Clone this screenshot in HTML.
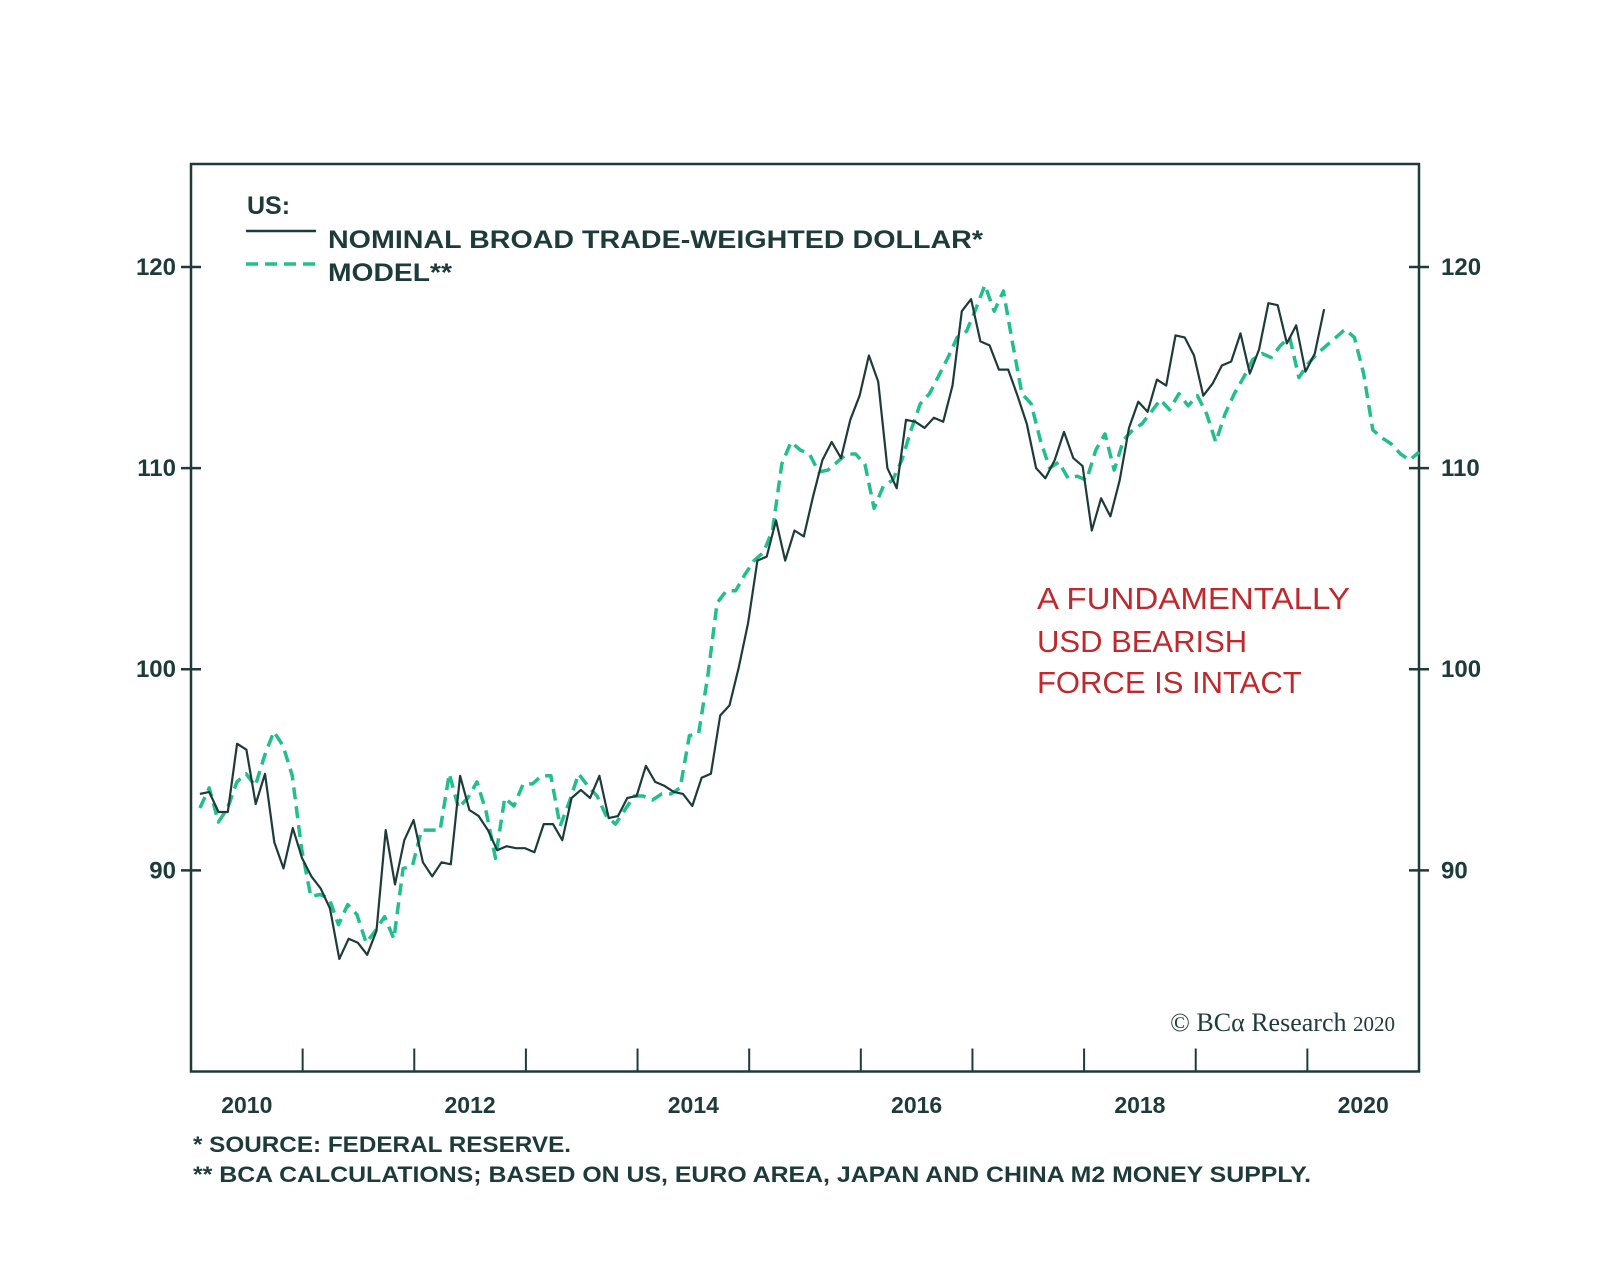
<!DOCTYPE html>
<html><head><meta charset="utf-8"><style>
html,body{margin:0;padding:0;background:#fff;}
svg{display:block;}
text{font-family:"Liberation Sans",sans-serif;}
</style></head><body>
<svg id="chart" width="1600" height="1282" viewBox="0 0 1600 1282">
<rect x="191" y="164" width="1228" height="907.5" fill="none" stroke="#1d3b3a" stroke-width="2.5"/>
<g id="axes"></g>
<g id="series"></g>
<g>
<text x="247" y="214" font-size="25" font-weight="bold" fill="#1d3b3a">US:</text>
<line x1="246" y1="231" x2="316" y2="231" stroke="#1d3b3a" stroke-width="2.5"/>
<text x="328" y="248" font-size="25" font-weight="bold" fill="#1d3b3a" textLength="655" lengthAdjust="spacingAndGlyphs">NOMINAL BROAD TRADE-WEIGHTED DOLLAR*</text>
<line x1="246" y1="264" x2="316" y2="264" stroke="#22bf8e" stroke-width="3.5" stroke-dasharray="12,7"/>
<text x="328" y="281" font-size="25" font-weight="bold" fill="#1d3b3a" textLength="124" lengthAdjust="spacingAndGlyphs">MODEL**</text>
</g>
<g fill="#c0282d" font-size="31">
<text x="1037" y="609" textLength="313" lengthAdjust="spacingAndGlyphs">A FUNDAMENTALLY</text>
<text x="1037" y="652">USD BEARISH</text>
<text x="1037" y="693">FORCE IS INTACT</text>
</g>
<text x="1395" y="1031" text-anchor="end" font-size="26" fill="#1d3b3a" style="font-family:'Liberation Serif',serif">© BCα Research <tspan font-size="21">2020</tspan></text>
<g fill="#1d3b3a" font-size="22" font-weight="bold">
<text x="193" y="1152" textLength="378" lengthAdjust="spacingAndGlyphs">*  SOURCE: FEDERAL RESERVE.</text>
<text x="193" y="1182" textLength="1118" lengthAdjust="spacingAndGlyphs">** BCA CALCULATIONS; BASED ON US, EURO AREA, JAPAN AND CHINA M2 MONEY SUPPLY.</text>
</g>
</svg>
<script>
const yTicks=[90,100,110,120];
const xTickYears=[2011,2012,2013,2014,2015,2016,2017,2018,2019,2020];
const xLabels=["2010","2012","2014","2016","2018","2020"];
const dollarStart=2010.08, dollarEnd=2020.15;
const dollar=[93.8,93.9,92.9,92.9,96.3,96.0,93.3,94.8,91.4,90.1,92.1,90.6,89.7,89.1,88.1,85.6,86.6,86.4,85.8,87.0,92.0,89.3,91.5,92.5,90.4,89.7,90.4,90.3,94.7,93.0,92.7,92.0,91.0,91.2,91.1,91.1,90.9,92.3,92.3,91.5,93.6,94.0,93.6,94.7,92.6,92.7,93.6,93.7,95.2,94.4,94.2,93.9,93.8,93.2,94.6,94.8,97.7,98.2,100.1,102.3,105.4,105.6,107.4,105.4,106.9,106.6,108.6,110.4,111.3,110.5,112.4,113.6,115.6,114.3,110.0,109.0,112.4,112.3,112.0,112.5,112.3,114.1,117.8,118.4,116.3,116.1,114.9,114.9,113.6,112.2,110.0,109.5,110.4,111.8,110.5,110.1,106.9,108.5,107.6,109.4,112.0,113.3,112.8,114.4,114.1,116.6,116.5,115.6,113.6,114.2,115.1,115.3,116.7,114.7,115.9,118.2,118.1,116.2,117.1,114.8,115.7,117.9];
const modelStart=2010.08, modelEnd=2021.0;
const model=[93.1,94.1,92.4,93.1,94.4,94.8,94.2,95.7,96.9,96.2,94.7,91.1,88.7,88.8,88.6,87.3,88.3,87.8,86.4,87.0,87.7,86.6,90.1,90.2,92.0,92.0,92.0,94.8,93.1,93.6,94.4,92.9,90.6,93.6,93.2,94.3,94.3,94.7,94.7,92.2,93.4,94.8,94.2,93.7,92.7,92.3,93.0,93.7,93.7,93.5,93.8,93.8,94.1,96.7,96.8,99.7,103.3,103.9,103.9,104.7,105.4,105.8,106.9,110.2,111.3,110.9,110.7,109.8,109.9,110.3,110.7,110.7,110.2,108.0,109.1,109.4,110.4,111.9,113.2,113.7,114.6,115.5,116.5,116.8,117.9,119.1,117.8,118.8,116.2,113.7,113.2,111.4,110.0,110.3,109.5,109.6,109.4,110.9,111.7,109.9,111.4,111.9,112.2,112.8,113.4,112.9,113.7,113.1,113.6,112.7,111.3,112.7,113.7,114.5,115.4,115.7,115.5,116.1,116.5,114.5,115.2,115.7,116.1,116.5,116.9,116.5,114.7,111.9,111.5,111.2,110.7,110.4,110.8];

const NS="http://www.w3.org/2000/svg";
const X0=191,X1=1419,Y0=164,Y1=1071.5,D0=2010,D1=2021,V0=80,V1=125.12;
function xs(d){return X0+(d-D0)/(D1-D0)*(X1-X0);}
function ys(v){return Y1-(v-V0)/(V1-V0)*(Y1-Y0);}
function mk(tag,attrs,parent){const e=document.createElementNS(NS,tag);for(const k in attrs)e.setAttribute(k,attrs[k]);parent.appendChild(e);return e;}
const axes=document.getElementById('axes'), series=document.getElementById('series');
yTicks.forEach(v=>{
  const y=ys(v);
  let t=mk('line',{x1:181,y1:y,x2:201,y2:y,stroke:'#1d3b3a','stroke-width':2.5},axes);
  
  
  t=mk('line',{x1:X1-10,y1:y,x2:X1+10,y2:y,stroke:'#1d3b3a','stroke-width':2.5},axes);
  
  
  let l=mk('text',{x:176,y:y+8,'text-anchor':'end','font-size':24,'font-weight':'bold',fill:'#1d3b3a'},axes);
  l.textContent=v;
  
  
  l=mk('text',{x:X1+22,y:y+8,'font-size':24,'font-weight':'bold',fill:'#1d3b3a'},axes);
  l.textContent=v;
  
  
});
xTickYears.forEach(d=>{
  const x=xs(d);
  const t=mk('line',{x1:x,y1:Y1,x2:x,y2:Y1-23,stroke:'#1d3b3a','stroke-width':2},axes);
  
  
});
xLabels.forEach(s=>{
  const l=mk('text',{x:xs(+s+0.5),y:1113,'text-anchor':'middle','font-size':23,'font-weight':'bold',fill:'#1d3b3a'},axes);
  l.textContent=s;
  
  
});
function pts(vals,s,e){return vals.map((v,i)=>xs(s+(e-s)*i/(vals.length-1)).toFixed(1)+','+ys(v).toFixed(1)).join(' ');}
const m=mk('polyline',{points:pts(model,modelStart,modelEnd),fill:'none',stroke:'#22bf8e','stroke-width':3.5,'stroke-dasharray':'12,7','stroke-linejoin':'round'},series);


const d=mk('polyline',{points:pts(dollar,dollarStart,dollarEnd),fill:'none',stroke:'#1d3b3a','stroke-width':2.2,'stroke-linejoin':'round'},series);


</script>
</body></html>
